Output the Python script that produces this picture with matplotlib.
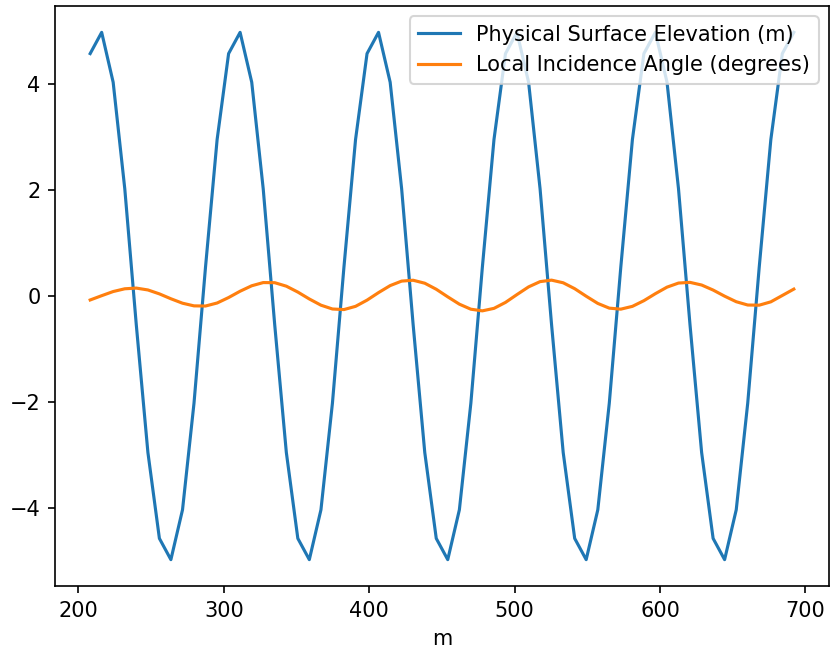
import matplotlib
matplotlib.use("Agg")
import matplotlib.pyplot as plt

# distance along the profile (m)
distance = [208.1, 216.0, 223.9, 231.9, 239.8, 247.8, 255.7, 263.6, 271.6, 279.5,
            287.4, 295.4, 303.3, 311.2, 319.2, 327.1, 335.0, 343.0, 350.9, 358.8,
            366.8, 374.7, 382.6, 390.6, 398.5, 406.4, 414.4, 422.3, 430.2, 438.2,
            446.1, 454.0, 462.0, 469.9, 477.8, 485.8, 493.7, 501.6, 509.6, 517.5,
            525.4, 533.4, 541.3, 549.2, 557.2, 565.1, 573.0, 581.0, 588.9, 596.8,
            604.8, 612.7, 620.6, 628.6, 636.5, 644.4, 652.4, 660.3, 668.2, 676.2,
            684.1, 692.0]

# physical surface elevation (m)
elevation = [4.57, 4.97, 4.03, 2.02, -0.54, -2.95, -4.57, -4.97, -4.03, -2.02, 0.54, 2.95,
             4.57, 4.97, 4.03, 2.02, -0.54, -2.95, -4.57, -4.97, -4.03, -2.02, 0.54, 2.95,
             4.57, 4.97, 4.03, 2.02, -0.54, -2.95, -4.57, -4.97, -4.03, -2.02, 0.54, 2.95,
             4.57, 4.97, 4.03, 2.02, -0.54, -2.95, -4.57, -4.97, -4.03, -2.02, 0.54, 2.95,
             4.57, 4.97, 4.03, 2.02, -0.54, -2.95, -4.57, -4.97, -4.03, -2.02, 0.54, 2.95,
             4.57, 4.97]

# local incidence angle (degrees)
incidence = [-0.075, 0.006, 0.084, 0.136, 0.149, 0.114, 0.040, -0.052, -0.136, -0.186,
             -0.189, -0.132, -0.029, 0.090, 0.193, 0.253, 0.251, 0.185, 0.074, -0.056,
             -0.173, -0.245, -0.256, -0.195, -0.078, 0.064, 0.196, 0.281, 0.297, 0.241,
             0.127, -0.016, -0.154, -0.249, -0.280, -0.233, -0.121, 0.027, 0.172, 0.271,
             0.299, 0.249, 0.138, -0.004, -0.140, -0.229, -0.248, -0.195, -0.088, 0.044,
             0.167, 0.244, 0.257, 0.207, 0.112, -0.003, -0.108, -0.170, -0.173, -0.110,
             0.010, 0.130]

dpi = 150
fig = plt.figure(figsize=(830 / dpi, 651 / dpi), dpi=dpi)
ax = fig.add_axes([55 / 830, 1 - 586 / 651, (829 - 55) / 830, (586 - 6) / 651])

ax.plot(distance, elevation, label='Physical Surface Elevation (m)')
ax.plot(distance, incidence, label='Local Incidence Angle (degrees)')
ax.set_xlabel('m')
ax.legend(loc='upper right')

fig.savefig('out.png', dpi=dpi)
